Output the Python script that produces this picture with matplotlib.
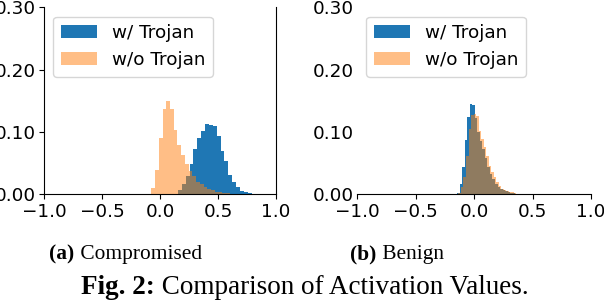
import numpy as np
import matplotlib
matplotlib.use("Agg")
import matplotlib.pyplot as plt

# ---------------- data (fraction of activations per bin) ----------------
series_labels = ["w/ Trojan", "w/o Trojan"]
subcaptions = ["Compromised", "Benign"]
subcaption_tags = ["(a)", "(b)"]
fig_caption_tag = "Fig. 2:"
fig_caption_text = "Comparison of Activation Values."

# (a) Compromised
comp_with_start, comp_with_width = 0.155, 0.0334
comp_with = [0.006, 0.016, 0.029, 0.048, 0.073, 0.090, 0.101, 0.112, 0.111,
             0.109, 0.093, 0.069, 0.053, 0.031, 0.019, 0.0115, 0.0056, 0.003, 0.002]
comp_without_start, comp_without_width = -0.075, 0.0322
comp_without = [0.0104, 0.0387, 0.090, 0.137, 0.149, 0.137, 0.103, 0.079, 0.063,
                0.048, 0.037, 0.030, 0.019, 0.016, 0.0115, 0.008, 0.007, 0.004,
                0.003, 0.002, 0.0015, 0.001]

# (b) Benign
ben_with_start, ben_with_width = -0.143, 0.0215
ben_with = [0.0027, 0.016, 0.043, 0.087, 0.124, 0.145, 0.143, 0.123, 0.100, 0.085,
            0.072, 0.058, 0.043, 0.033, 0.025, 0.017, 0.011, 0.008, 0.006, 0.0045,
            0.0035, 0.0025, 0.0015, 0.001]
ben_without_start, ben_without_width = -0.133, 0.0215
ben_without = [0.002, 0.011, 0.027, 0.061, 0.104, 0.127, 0.129, 0.125, 0.101, 0.089,
               0.076, 0.062, 0.045, 0.035, 0.027, 0.019, 0.013, 0.009, 0.007, 0.005,
               0.004, 0.003, 0.002, 0.001]

x_ticks = [-1.0, -0.5, 0.0, 0.5, 1.0]
y_ticks = [0.0, 0.1, 0.2, 0.3]

# ---------------- style ----------------
W, H = 604, 308
fig = plt.figure(figsize=(W / 100, H / 100), dpi=100)

def px_axes(x0, y_top, w, h):
    return [x0 / W, 1 - (y_top + h) / H, w / W, h / H]

ax1 = fig.add_axes(px_axes(44, 7.5, 232, 186.7))
ax2 = fig.add_axes(px_axes(357, 7.5, 234, 186.7))

BLUE = "#1f77b4"
ORANGE = "#ff7f0e"
TICK_FS = 13.2

def draw(ax, w_start, w_width, w_vals, o_start, o_width, o_vals):
    w_edges = w_start + w_width * np.arange(len(w_vals) + 1)
    o_edges = o_start + o_width * np.arange(len(o_vals) + 1)
    ax.hist(w_edges[:-1] + w_width / 2, bins=w_edges, weights=w_vals,
            color=BLUE, label=series_labels[0])
    ax.hist(o_edges[:-1] + o_width / 2, bins=o_edges, weights=o_vals,
            color=ORANGE, alpha=0.5, label=series_labels[1])
    ax.set_xlim(-1, 1)
    ax.set_ylim(0, 0.30)
    ax.set_xticks(x_ticks)
    ax.set_yticks(y_ticks)
    ax.set_yticklabels([f"{v:.2f}" for v in y_ticks])
    ax.tick_params(labelsize=TICK_FS, pad=2.5)
    ax.legend(loc="upper left", fontsize=13.2)

draw(ax1, comp_with_start, comp_with_width, comp_with,
     comp_without_start, comp_without_width, comp_without)
draw(ax2, ben_with_start, ben_with_width, ben_with,
     ben_without_start, ben_without_width, ben_without)

ax1.spines["top"].set_visible(False)
for s in ["top", "right", "left"]:
    ax2.spines[s].set_visible(False)
ax2.tick_params(axis="y", length=0)

# ---------------- captions ----------------
serif = "Liberation Serif"
renderer = fig.canvas.get_renderer()

def two_part(x_center_px, y_center_px, bold_txt, reg_txt, fs):
    # measure both parts, then place them side by side, centred on x_center_px
    tb = fig.text(0, 0, bold_txt, fontsize=fs, family=serif, weight="bold",
                  va="center", ha="left")
    tr = fig.text(0, 0, " " + reg_txt, fontsize=fs, family=serif,
                  va="center", ha="left")
    wb = tb.get_window_extent(renderer).width
    wr = tr.get_window_extent(renderer).width
    x0 = x_center_px - (wb + wr) / 2
    y = 1 - y_center_px / H
    tb.set_position((x0 / W, y))
    tr.set_position(((x0 + wb) / W, y))

two_part(125.5, 254, subcaption_tags[0], subcaptions[0], 15.4)
two_part(397, 254, subcaption_tags[1], subcaptions[1], 15.4)
two_part(305, 288, fig_caption_tag, fig_caption_text, 19.5)

fig.savefig("out.png", dpi=100)
